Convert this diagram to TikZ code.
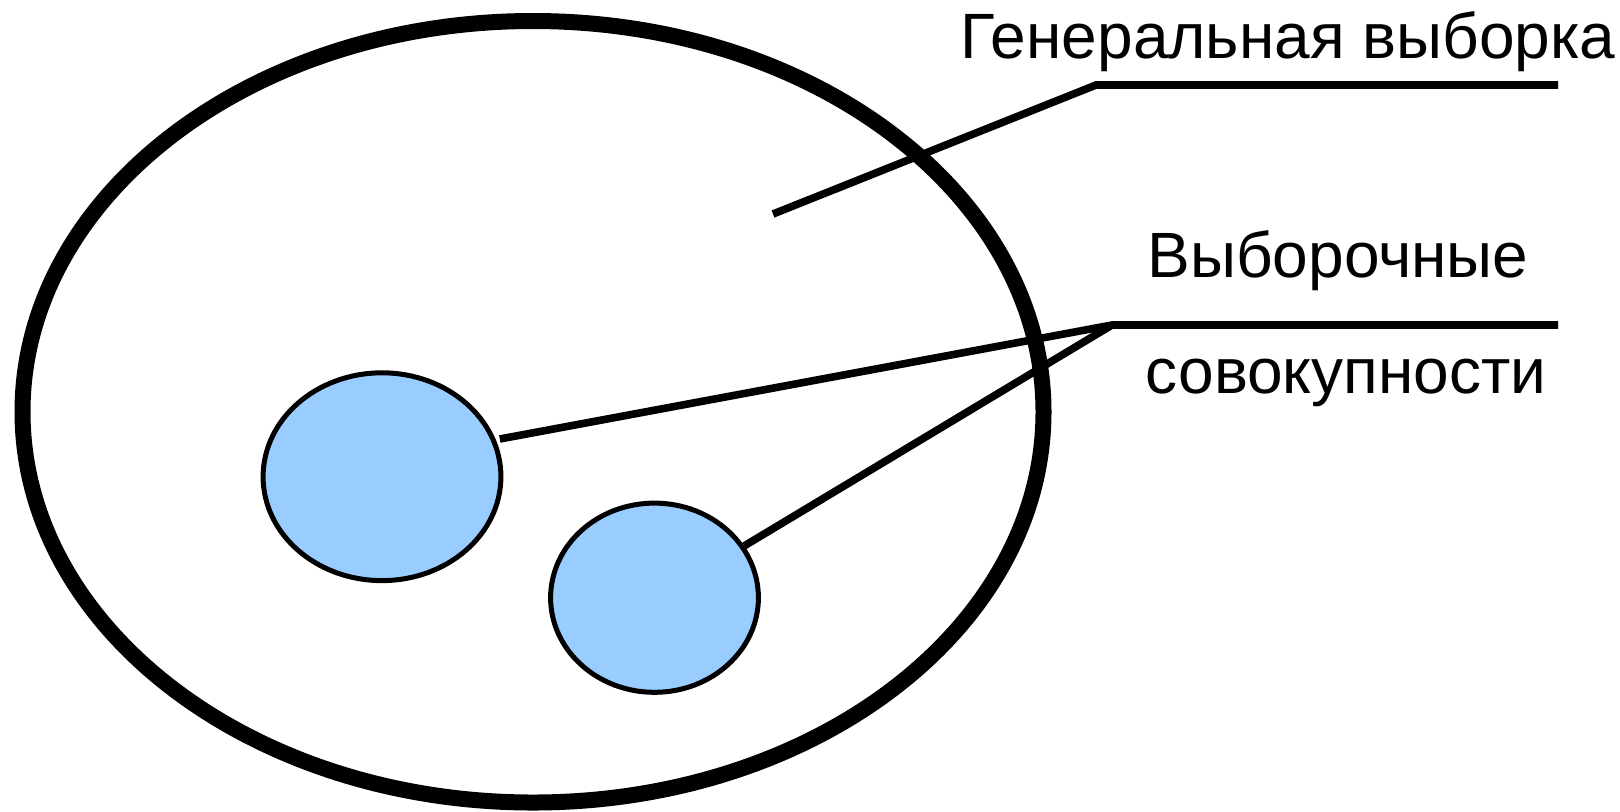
\documentclass[tikz,border=0pt]{standalone}
\usepackage{fontspec}
\setmainfont{Liberation Sans}
\usetikzlibrary{shapes.geometric}
\definecolor{sampleblue}{HTML}{99CCFF}
\tikzset{
  population/.style={draw,ellipse,line width=8pt,inner sep=0pt},
  sample/.style={draw,ellipse,line width=2.5pt,fill=sampleblue,inner sep=0pt},
  leader/.style={line width=3.8pt},
  label/.style={font=\fontsize{32}{38}\selectfont,inner sep=0pt,anchor=base}
}
\begin{document}
\begin{tikzpicture}[x=0.5pt,y=-0.5pt]
\useasboundingbox (0,0) rectangle (1620,811);
% ellipses
\node (gen) at (533,411.75) [population,minimum width=510.5pt,minimum height=390.75pt] {};
\node (s1) at (382,476.7) [sample,minimum width=118.9pt,minimum height=103.9pt] {};
\node (s2) at (654.5,597.7) [sample,minimum width=103.9pt,minimum height=94.6pt] {};

% labels
\node (tgen) at (1288,58) [label] {Генеральная выборка};
\node (tsel1) at (1338,277) [label] {Выборочные};
\node (tsel2) at (1346,393) [label] {совокупности};

% leader lines
\coordinate (pin) at (773,214);
\coordinate (kgen) at (1096,85);
\coordinate (egen) at (1558,85);
\coordinate (ksel) at (1112,325);
\coordinate (esel) at (1558,325);
\draw[leader] (pin) -- (kgen) -- (egen);
\draw[leader,shorten <=2pt] (s1.18) -- (ksel) -- (esel);
\draw[leader] (s2.30) -- (ksel);
\end{tikzpicture}
\end{document}
